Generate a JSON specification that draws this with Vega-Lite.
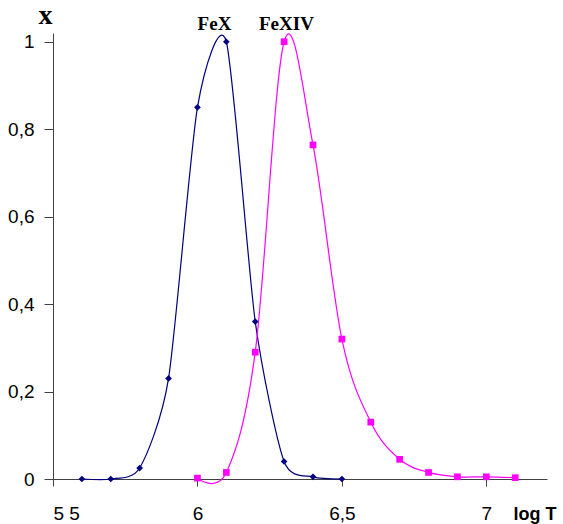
{
  "$schema": "https://vega.github.io/schema/vega-lite/v6.json",
  "width": 494,
  "height": 446,
  "autosize": {"type": "none"},
  "padding": {"left": 53, "top": 33, "right": 16, "bottom": 45},
  "background": "white",
  "config": {
    "view": {"stroke": null},
    "axis": {"grid": false, "domainColor": "#404040", "tickColor": "#404040", "labelFont": "Liberation Sans", "labelFontSize": 19, "labelColor": "black"}
  },
  "data": {
    "values": [
      {"series": "FeX", "logT": 5.6, "x": 0.0},
      {"series": "FeX", "logT": 5.7, "x": 0.0},
      {"series": "FeX", "logT": 5.8, "x": 0.025},
      {"series": "FeX", "logT": 5.9, "x": 0.23},
      {"series": "FeX", "logT": 6.0, "x": 0.85},
      {"series": "FeX", "logT": 6.1, "x": 1.0},
      {"series": "FeX", "logT": 6.2, "x": 0.36},
      {"series": "FeX", "logT": 6.3, "x": 0.04},
      {"series": "FeX", "logT": 6.4, "x": 0.005},
      {"series": "FeX", "logT": 6.5, "x": 0.0},
      {"series": "FeXIV", "logT": 6.0, "x": 0.002},
      {"series": "FeXIV", "logT": 6.1, "x": 0.015},
      {"series": "FeXIV", "logT": 6.2, "x": 0.29},
      {"series": "FeXIV", "logT": 6.3, "x": 1.0},
      {"series": "FeXIV", "logT": 6.4, "x": 0.764},
      {"series": "FeXIV", "logT": 6.5, "x": 0.32},
      {"series": "FeXIV", "logT": 6.6, "x": 0.13},
      {"series": "FeXIV", "logT": 6.7, "x": 0.045},
      {"series": "FeXIV", "logT": 6.8, "x": 0.015},
      {"series": "FeXIV", "logT": 6.9, "x": 0.005},
      {"series": "FeXIV", "logT": 7.0, "x": 0.005},
      {"series": "FeXIV", "logT": 7.1, "x": 0.003}
    ]
  },
  "encoding": {
    "x": {
      "field": "logT", "type": "quantitative",
      "scale": {"domain": [5.5, 7.21], "nice": false, "zero": false},
      "axis": {
        "values": [5.5, 6, 6.5, 7],
        "labelExpr": "datum.value == 5.5 ? '5 5' : replace(format(datum.value, '~g'), '.', ',')",
        "tickSize": 7,
        "labelBaseline": "alphabetic",
        "labelPadding": 33,
        "title": "log T",
        "titleFont": "Liberation Sans",
        "titleFontWeight": "bold",
        "titleFontSize": 18,
        "titleAlign": "left",
        "titleBaseline": "alphabetic",
        "titleX": 460,
        "titleY": 40
      }
    },
    "y": {
      "field": "x", "type": "quantitative",
      "scale": {"domain": [0, 1.02], "nice": false},
      "axis": {
        "values": [0, 0.2, 0.4, 0.6, 0.8, 1],
        "labelExpr": "replace(format(datum.value, '~g'), '.', ',')",
        "tickSize": 9,
        "labelPadding": 10,
        "title": "x",
        "titleFont": "Liberation Serif",
        "titleFontWeight": "bold",
        "titleFontSize": 28,
        "titleAngle": 0,
        "titleAlign": "center",
        "titleBaseline": "alphabetic",
        "titleX": -8,
        "titleY": -10
      }
    },
    "color": {
      "field": "series", "type": "nominal",
      "scale": {"domain": ["FeX", "FeXIV"], "range": ["#000080", "#FF00FF"]},
      "legend": null
    }
  },
  "layer": [
    {
      "transform": [{"filter": "datum.series == 'FeX'"}],
      "mark": {"type": "line", "interpolate": "cardinal", "tension": 0.3, "strokeWidth": 1.2}
    },
    {
      "transform": [{"filter": "datum.series == 'FeXIV'"}],
      "mark": {"type": "line", "interpolate": "cardinal", "strokeWidth": 1.2}
    },
    {
      "mark": {"type": "point", "filled": true, "opacity": 1},
      "encoding": {
        "shape": {
          "field": "series", "type": "nominal",
          "scale": {"domain": ["FeX", "FeXIV"], "range": ["diamond", "square"]},
          "legend": null
        },
        "size": {"value": 45}
      }
    },
    {
      "data": {
        "values": [
          {"series": "FeX", "logT": 6.059, "x": 1.027},
          {"series": "FeXIV", "logT": 6.308, "x": 1.027}
        ]
      },
      "mark": {"type": "text", "font": "Liberation Serif", "fontWeight": "bold", "fontSize": 19, "baseline": "alphabetic", "align": "center", "color": "black"},
      "encoding": {
        "text": {"field": "series"},
        "color": {"value": "black"}
      }
    }
  ]
}
